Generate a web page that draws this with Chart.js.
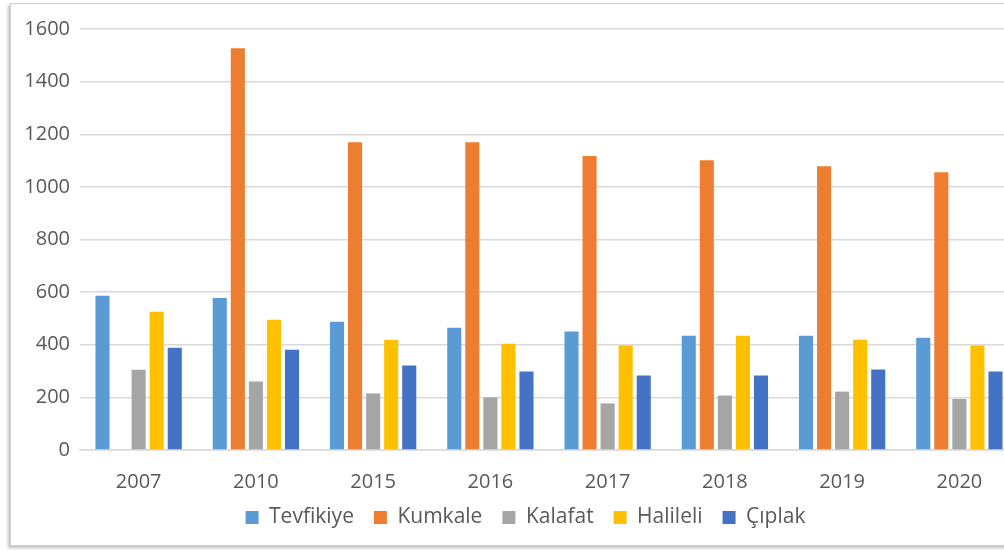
<!DOCTYPE html>
<html>
<head>
<meta charset="utf-8">
<script src="https://cdn.jsdelivr.net/npm/chart.js@4.4.1/dist/chart.umd.min.js"></script>
<style>
  html, body { margin: 0; padding: 0; background: #ffffff; overflow: hidden; width: 1004px; height: 551px; }
  #frame {
    position: absolute; left: 10px; top: 3px; width: 1031px; height: 541px;
    border: 1px solid #d0d0d0; box-shadow: -2px 2px 3px rgba(0,0,0,0.25); background: #fff;
  }
  #frame canvas { display: block; }
</style>
</head>
<body>
<div id="frame"><canvas id="c" width="1031" height="541"></canvas></div>
<script>
const categories = ['2007', '2010', '2015', '2016', '2017', '2018', '2019', '2020'];
const seriesNames = ['Tevfikiye', 'Kumkale', 'Kalafat', 'Halileli', 'Çıplak'];
const tevfikiye = [586, 578, 487, 465, 450, 434, 434, 427];
const kumkale   = [null, 1527, 1170, 1170, 1117, 1101, 1078, 1056];
const kalafat   = [305, 260, 215, 200, 177, 207, 222, 194];
const halileli  = [525, 495, 419, 404, 397, 434, 419, 397];
const ciplak    = [389, 381, 321, 298, 283, 283, 306, 298];
const yTicks = [0, 200, 400, 600, 800, 1000, 1200, 1400, 1600];
const colors = ['#5B9BD5', '#ED7D31', '#A5A5A5', '#FFC000', '#4472C4'];

const values = [tevfikiye, kumkale, kalafat, halileli, ciplak];
const FONT = "'Open Sans', sans-serif";
const TXT = '#595959';

const legendTune = {
  id: 'legendTune',
  afterInit(chart) {
    const lg = chart.legend;
    if (!lg) return;
    const origFit = lg.fit;
    lg.fit = function () { origFit.call(this); this.height -= 20; };
  },
  afterLayout(chart) {
    const lg = chart.legend;
    if (!lg) return;
    lg.left += 22;
    lg.top -= 27;
  }
};

new Chart(document.getElementById('c'), {
  type: 'bar',
  data: {
    labels: categories,
    datasets: seriesNames.map((n, i) => ({
      label: n,
      data: values[i],
      backgroundColor: colors[i],
      borderWidth: 0,
      categoryPercentage: 0.77,
      barPercentage: 0.78
    }))
  },
  plugins: [legendTune],
  options: {
    responsive: false,
    animation: false,
    layout: { padding: { left: 0, right: 24, top: 25, bottom: 0 } },
    plugins: {
      tooltip: { enabled: false },
      legend: {
        position: 'bottom',
        labels: {
          color: TXT,
          font: { family: FONT, size: 21 },
          boxWidth: 13, boxHeight: 13,
          padding: 20
        }
      }
    },
    scales: {
      x: {
        grid: { display: false, drawTicks: false },
        border: { display: true, color: '#d9d9d9', width: 1.5 },
        ticks: { color: TXT, font: { family: FONT, size: 20 }, padding: 20 }
      },
      y: {
        min: 0, max: 1600,
        afterFit: s => { s.width = 69; },
        afterBuildTicks: s => { s.ticks = yTicks.map(v => ({ value: v })); },
        grid: { color: '#d9d9d9', lineWidth: 1.5, drawTicks: false },
        border: { display: false },
        ticks: { color: TXT, font: { family: FONT, size: 20 }, padding: 10, callback: v => String(v) }
      }
    }
  }
});
</script>
</body>
</html>
